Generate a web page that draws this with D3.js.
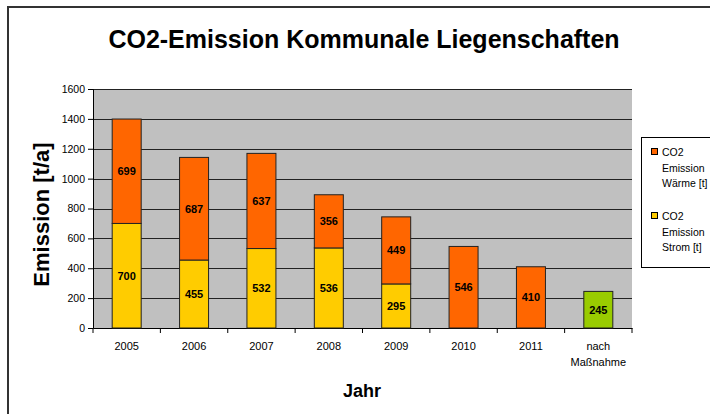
<!DOCTYPE html>
<html>
<head>
<meta charset="utf-8">
<script src="https://cdn.jsdelivr.net/npm/d3@7"></script>
<style>
  body { margin: 0; background: #fff; }
  svg { display: block; font-family: "Liberation Sans", Arial, sans-serif; }
</style>
</head>
<body>
<svg id="chart" width="710" height="414"></svg>
<script>
// data
const categories = ["2005", "2006", "2007", "2008", "2009", "2010", "2011", "nach Maßnahme"];
const strom = [700, 455, 532, 536, 295, 0, 0, 0];
const waerme = [699, 687, 637, 356, 449, 546, 410, 0];
const nachMassnahme = [0, 0, 0, 0, 0, 0, 0, 245];
const yTicks = [0, 200, 400, 600, 800, 1000, 1200, 1400, 1600];
const legendItems = [
  { lines: ["CO2", "Emission", "Wärme [t]"], color: "#FF6600" },
  { lines: ["CO2", "Emission", "Strom [t]"], color: "#FFCC00" }
];

const svg = d3.select("#chart");

// outer frame
svg.append("rect")
  .attr("x", 8).attr("y", 7)
  .attr("width", 720).attr("height", 420)
  .attr("fill", "#fff").attr("stroke", "#333").attr("stroke-width", 2);

svg.append("text")
  .attr("x", 364).attr("y", 48)
  .attr("text-anchor", "middle")
  .attr("font-size", 25).attr("font-weight", "bold")
  .text("CO2-Emission Kommunale Liegenschaften");

const plot = { left: 93, right: 632, top: 89, bottom: 328 };

const x = d3.scaleBand()
  .domain(categories)
  .range([plot.left, plot.right]);

const y = d3.scaleLinear()
  .domain([0, 1600])
  .range([plot.bottom, plot.top]);

const g = svg.append("g");

g.append("rect")
  .attr("x", plot.left).attr("y", plot.top)
  .attr("width", plot.right - plot.left).attr("height", plot.bottom - plot.top)
  .attr("fill", "#C0C0C0");

// gridlines
g.selectAll(".grid")
  .data(yTicks.filter(d => d > 0))
  .enter()
  .append("line")
  .attr("x1", plot.left).attr("x2", plot.right)
  .attr("y1", d => Math.round(y(d)) + 0.5).attr("y2", d => Math.round(y(d)) + 0.5)
  .attr("stroke", "#222").attr("stroke-width", 1);

// axes
const yAxis = g.append("g")
  .attr("transform", `translate(${plot.left},0)`)
  .call(d3.axisLeft(y).tickValues(yTicks).tickFormat(d3.format("d")).tickSize(5).tickPadding(3));
yAxis.selectAll("text").attr("font-size", 10.5).attr("fill", "#000").attr("font-family", "Liberation Sans, Arial, sans-serif");
yAxis.selectAll("line, path").attr("stroke", "#000");

const xAxis = g.append("g")
  .attr("transform", `translate(0,${plot.bottom})`)
  .call(d3.axisBottom(x).tickSize(0).tickFormat(""));
xAxis.select("path").attr("stroke", "#000");

// tick marks between categories
g.selectAll(".xtick")
  .data(d3.range(categories.length + 1))
  .enter()
  .append("line")
  .attr("x1", i => plot.left + i * x.step()).attr("x2", i => plot.left + i * x.step())
  .attr("y1", plot.bottom).attr("y2", plot.bottom + 5)
  .attr("stroke", "#000");

// category labels
const xl = g.selectAll(".xlabel")
  .data(categories)
  .enter()
  .append("text")
  .attr("text-anchor", "middle")
  .attr("font-size", 11)
  .attr("x", d => x(d) + x.bandwidth() / 2)
  .attr("y", 350);
xl.each(function (d) {
  const parts = d === "nach Maßnahme" ? ["nach", "Maßnahme"] : [d];
  d3.select(this).selectAll("tspan")
    .data(parts)
    .enter()
    .append("tspan")
    .attr("x", x(d) + x.bandwidth() / 2)
    .attr("dy", (p, i) => i === 0 ? 0 : 16)
    .text(p => p);
});

// stacked bars
const barW = 29;
const rows = categories.map((c, i) => ({
  cat: c,
  segs: [
    { v0: 0, v1: strom[i], v: strom[i], color: "#FFCC00" },
    { v0: strom[i], v1: strom[i] + waerme[i], v: waerme[i], color: "#FF6600" },
    { v0: 0, v1: nachMassnahme[i], v: nachMassnahme[i], color: "#99CC00" }
  ].filter(s => s.v > 0)
}));

const segs = rows.flatMap(r => r.segs.map(s => ({ ...s, cat: r.cat })));

g.selectAll(".bar")
  .data(segs)
  .enter()
  .append("rect")
  .attr("x", d => x(d.cat) + x.bandwidth() / 2 - barW / 2)
  .attr("y", d => y(d.v1))
  .attr("width", barW)
  .attr("height", d => y(d.v0) - y(d.v1))
  .attr("fill", d => d.color)
  .attr("stroke", "#222").attr("stroke-width", 1);

g.selectAll(".val")
  .data(segs)
  .enter()
  .append("text")
  .attr("x", d => x(d.cat) + x.bandwidth() / 2)
  .attr("y", d => (y(d.v0) + y(d.v1)) / 2 + 4)
  .attr("text-anchor", "middle")
  .attr("font-size", 11).attr("font-weight", "bold")
  .text(d => d.v);

// axis titles
svg.append("text")
  .attr("transform", `translate(49,${(plot.top + plot.bottom) / 2 + 6}) rotate(-90)`)
  .attr("text-anchor", "middle")
  .attr("font-size", 22).attr("font-weight", "bold")
  .text("Emission [t/a]");

svg.append("text")
  .attr("x", 362).attr("y", 397)
  .attr("text-anchor", "middle")
  .attr("font-size", 18).attr("font-weight", "bold")
  .text("Jahr");

// legend
const leg = svg.append("g");
leg.append("rect")
  .attr("x", 641.5).attr("y", 137.5)
  .attr("width", 80).attr("height", 130)
  .attr("fill", "#fff").attr("stroke", "#000");

legendItems.forEach((item, i) => {
  const top = 156 + i * 64;
  leg.append("rect")
    .attr("x", 651.5).attr("y", top - 7.5)
    .attr("width", 6).attr("height", 6)
    .attr("fill", item.color).attr("stroke", "#000");
  leg.append("text")
    .attr("font-size", 10.5)
    .selectAll("tspan")
    .data(item.lines)
    .enter()
    .append("tspan")
    .attr("x", 662)
    .attr("y", (d, j) => top + j * 15.5)
    .text(d => d);
});
</script>
</body>
</html>
